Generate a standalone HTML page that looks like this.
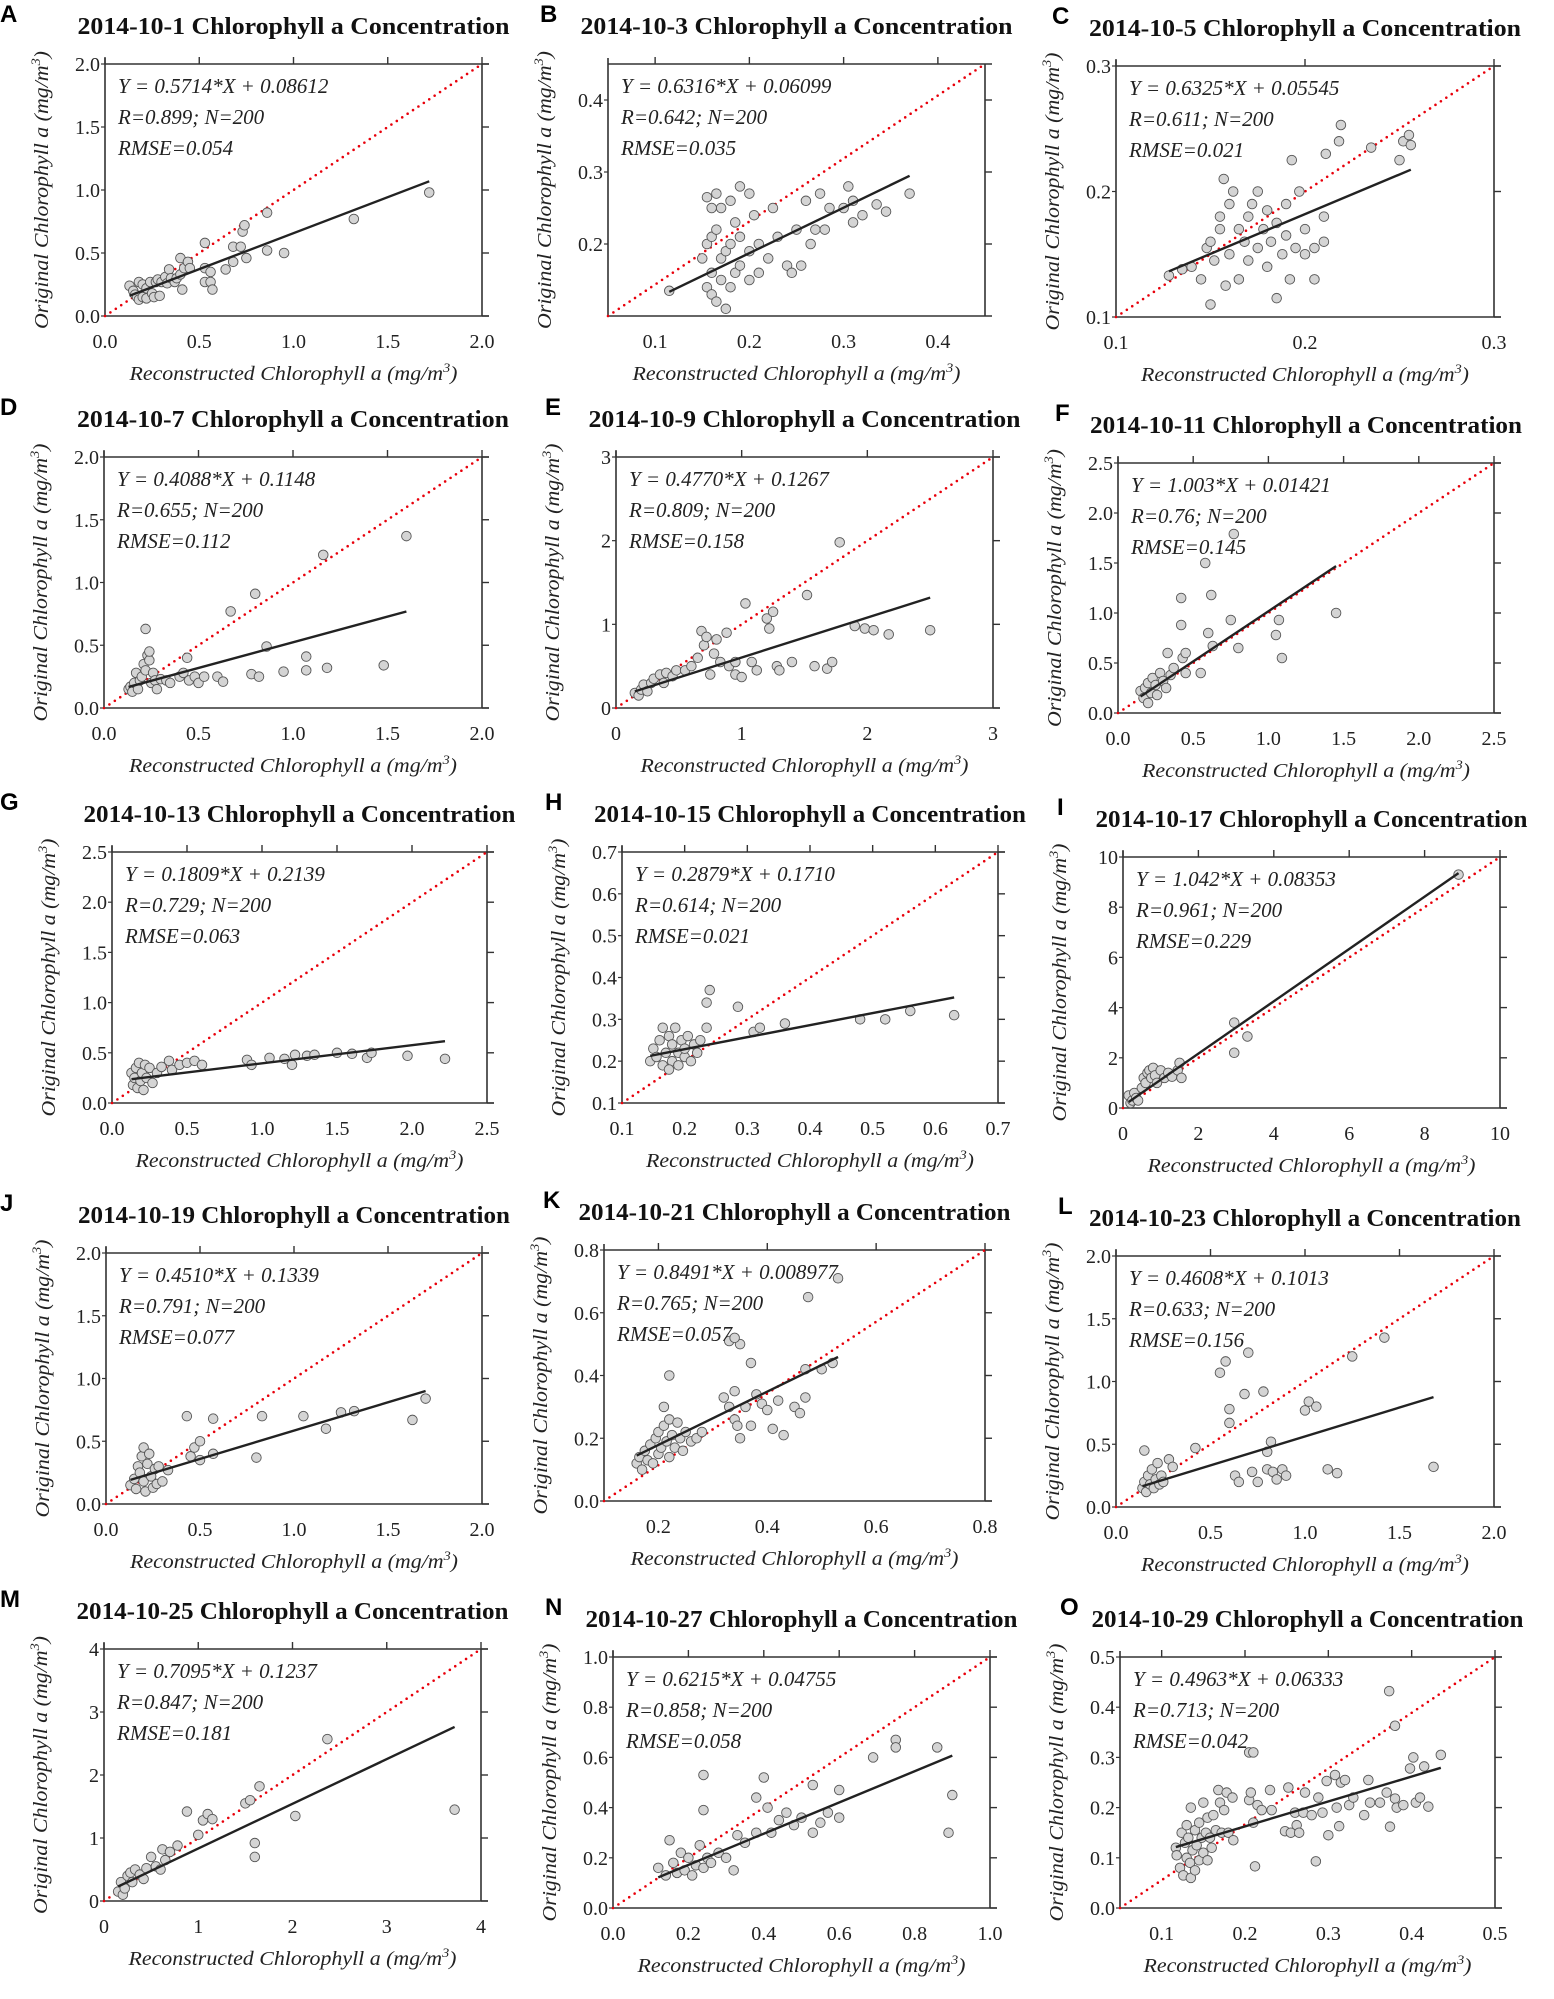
<!DOCTYPE html>
<html><head><meta charset="utf-8">
<style>
html,body{margin:0;padding:0;background:#fff;}
svg{display:block;}
.ttl{font-family:"Liberation Serif",serif;font-weight:bold;font-size:24px;fill:#111;}
.let{font-family:"Liberation Sans",sans-serif;font-weight:bold;font-size:24px;fill:#000;}
.tk{font-family:"Liberation Serif",serif;font-size:20px;fill:#222;}
.ann{font-family:"Liberation Serif",serif;font-style:italic;font-size:21px;fill:#222;}
.axl{font-family:"Liberation Serif",serif;font-style:italic;font-size:20px;fill:#222;}
</style></head>
<body>
<svg id="fig" width="1554" height="1999" viewBox="0 0 1554 1999" xmlns="http://www.w3.org/2000/svg"></svg>
<script>
const panelIds=['A','B','C','D','E','F','G','H','I','J','K','L','M','N','O'];
const dates=['2014-10-1','2014-10-3','2014-10-5','2014-10-7','2014-10-9','2014-10-11','2014-10-13','2014-10-15','2014-10-17','2014-10-19','2014-10-21','2014-10-23','2014-10-25','2014-10-27','2014-10-29'];
const slopeText=['0.5714','0.6316','0.6325','0.4088','0.4770','1.003','0.1809','0.2879','1.042','0.4510','0.8491','0.4608','0.7095','0.6215','0.4963'];
const interceptText=['0.08612','0.06099','0.05545','0.1148','0.1267','0.01421','0.2139','0.1710','0.08353','0.1339','0.008977','0.1013','0.1237','0.04755','0.06333'];
const rText=['0.899','0.642','0.611','0.655','0.809','0.76','0.729','0.614','0.961','0.791','0.765','0.633','0.847','0.858','0.713'];
const rmseText=['0.054','0.035','0.021','0.112','0.158','0.145','0.063','0.021','0.229','0.077','0.057','0.156','0.181','0.058','0.042'];
const xDomains=[[0,2],[0.05,0.45],[0.1,0.3],[0,2],[0,3],[0,2.5],[0,2.5],[0.1,0.7],[0,10],[0,2],[0.1,0.8],[0,2],[0,4],[0,1],[0.05,0.5]];
const yDomains=[[0,2],[0.1,0.45],[0.1,0.3],[0,2],[0,3],[0,2.5],[0,2.5],[0.1,0.7],[0,10],[0,2],[0,0.8],[0,2],[0,4],[0,1],[0,0.5]];
const t02=[0,0.5,1,1.5,2], t025=[0,0.5,1,1.5,2,2.5];
const xTicks=[t02,[0.1,0.2,0.3,0.4],[0.1,0.2,0.3],t02,[0,1,2,3],t025,t025,[0.1,0.2,0.3,0.4,0.5,0.6,0.7],[0,2,4,6,8,10],t02,[0.2,0.4,0.6,0.8],t02,[0,1,2,3,4],[0,0.2,0.4,0.6,0.8,1],[0.1,0.2,0.3,0.4,0.5]];
const yTicks=[t02,[0.2,0.3,0.4],[0.1,0.2,0.3],t02,[0,1,2,3],t025,t025,[0.1,0.2,0.3,0.4,0.5,0.6,0.7],[0,2,4,6,8,10],t02,[0,0.2,0.4,0.6,0.8],t02,[0,1,2,3,4],[0,0.2,0.4,0.6,0.8,1],[0,0.1,0.2,0.3,0.4,0.5]];
const tickDecimals=[1,1,1,1,0,1,1,1,0,1,1,1,0,1,1];

const ptsA=[[0.13,0.24],[0.15,0.2],[0.16,0.17],[0.17,0.15],[0.18,0.13],[0.18,0.27],[0.2,0.25],[0.2,0.15],[0.22,0.22],[0.22,0.14],[0.24,0.27],[0.25,0.18],[0.26,0.15],[0.27,0.27],[0.28,0.29],[0.29,0.16],[0.3,0.27],[0.32,0.31],[0.33,0.26],[0.34,0.37],[0.35,0.3],[0.37,0.27],[0.38,0.3],[0.4,0.33],[0.4,0.46],[0.41,0.21],[0.42,0.38],[0.44,0.43],[0.45,0.38],[0.53,0.58],[0.53,0.38],[0.53,0.27],[0.56,0.35],[0.56,0.27],[0.57,0.21],[0.64,0.37],[0.68,0.55],[0.68,0.43],[0.72,0.55],[0.73,0.67],[0.74,0.72],[0.75,0.46],[0.86,0.82],[0.86,0.52],[0.95,0.5],[1.32,0.77],[1.72,0.98]];
const ptsB=[[0.15,0.18],[0.155,0.2],[0.155,0.14],[0.16,0.13],[0.16,0.16],[0.16,0.21],[0.165,0.27],[0.165,0.22],[0.165,0.12],[0.17,0.25],[0.17,0.15],[0.17,0.18],[0.175,0.11],[0.175,0.19],[0.18,0.14],[0.18,0.2],[0.18,0.26],[0.185,0.16],[0.185,0.23],[0.19,0.17],[0.19,0.21],[0.19,0.28],[0.2,0.15],[0.2,0.19],[0.2,0.27],[0.205,0.24],[0.21,0.2],[0.21,0.16],[0.22,0.18],[0.225,0.25],[0.23,0.21],[0.24,0.17],[0.245,0.16],[0.25,0.22],[0.255,0.17],[0.26,0.26],[0.265,0.2],[0.27,0.22],[0.275,0.27],[0.28,0.22],[0.285,0.25],[0.3,0.25],[0.305,0.28],[0.31,0.26],[0.31,0.23],[0.32,0.24],[0.335,0.255],[0.345,0.245],[0.37,0.27],[0.155,0.265],[0.16,0.25],[0.115,0.135]];
const ptsC=[[0.128,0.133],[0.135,0.138],[0.14,0.14],[0.145,0.13],[0.148,0.155],[0.15,0.11],[0.15,0.16],[0.152,0.145],[0.155,0.17],[0.155,0.18],[0.158,0.125],[0.16,0.19],[0.16,0.15],[0.162,0.2],[0.165,0.17],[0.165,0.13],[0.168,0.16],[0.17,0.18],[0.17,0.145],[0.172,0.19],[0.175,0.2],[0.175,0.155],[0.178,0.17],[0.18,0.14],[0.18,0.185],[0.182,0.16],[0.185,0.115],[0.185,0.175],[0.188,0.15],[0.19,0.19],[0.19,0.165],[0.192,0.13],[0.195,0.155],[0.197,0.2],[0.2,0.17],[0.2,0.15],[0.205,0.155],[0.205,0.13],[0.21,0.16],[0.21,0.18],[0.157,0.21],[0.193,0.225],[0.211,0.23],[0.218,0.24],[0.219,0.253],[0.235,0.235],[0.25,0.225],[0.252,0.24],[0.256,0.237],[0.255,0.245]];
const ptsD=[[0.13,0.15],[0.14,0.17],[0.15,0.13],[0.16,0.2],[0.17,0.28],[0.18,0.15],[0.19,0.22],[0.2,0.25],[0.21,0.35],[0.22,0.3],[0.22,0.63],[0.23,0.42],[0.24,0.38],[0.25,0.2],[0.26,0.28],[0.27,0.22],[0.28,0.15],[0.3,0.23],[0.33,0.22],[0.35,0.2],[0.4,0.25],[0.42,0.28],[0.44,0.4],[0.45,0.22],[0.48,0.25],[0.5,0.2],[0.53,0.25],[0.6,0.25],[0.63,0.21],[0.67,0.77],[0.8,0.91],[0.78,0.27],[0.82,0.25],[0.86,0.49],[0.95,0.29],[1.07,0.3],[1.07,0.41],[1.18,0.32],[1.16,1.22],[1.48,0.34],[1.6,1.37],[0.24,0.45]];
const ptsE=[[0.15,0.18],[0.18,0.15],[0.2,0.22],[0.22,0.28],[0.25,0.2],[0.28,0.3],[0.3,0.35],[0.35,0.4],[0.38,0.3],[0.4,0.42],[0.45,0.38],[0.48,0.45],[0.55,0.45],[0.6,0.5],[0.65,0.6],[0.68,0.92],[0.7,0.75],[0.72,0.85],[0.75,0.4],[0.78,0.65],[0.8,0.82],[0.83,0.55],[0.88,0.9],[0.9,0.5],[0.95,0.55],[0.95,0.4],[1.0,0.37],[1.03,1.25],[1.08,0.55],[1.12,0.45],[1.2,1.07],[1.22,0.95],[1.25,1.15],[1.28,0.5],[1.3,0.45],[1.4,0.55],[1.52,1.35],[1.58,0.5],[1.68,0.47],[1.72,0.55],[1.78,1.98],[1.9,0.98],[1.98,0.95],[2.05,0.93],[2.17,0.88],[2.5,0.93]];
const ptsF=[[0.15,0.22],[0.17,0.15],[0.18,0.25],[0.2,0.1],[0.2,0.3],[0.22,0.2],[0.23,0.35],[0.25,0.28],[0.26,0.18],[0.28,0.4],[0.3,0.32],[0.32,0.25],[0.33,0.6],[0.35,0.38],[0.37,0.45],[0.42,0.88],[0.42,1.15],[0.43,0.55],[0.45,0.6],[0.45,0.4],[0.55,0.4],[0.58,1.5],[0.6,0.8],[0.62,1.18],[0.63,0.67],[0.75,0.93],[0.77,1.79],[0.8,0.65],[1.05,0.78],[1.07,0.93],[1.09,0.55],[1.45,1.0]];
const ptsG=[[0.13,0.3],[0.14,0.18],[0.15,0.25],[0.16,0.35],[0.17,0.15],[0.18,0.4],[0.19,0.22],[0.2,0.3],[0.21,0.13],[0.22,0.38],[0.23,0.25],[0.25,0.35],[0.27,0.2],[0.3,0.3],[0.33,0.36],[0.38,0.42],[0.4,0.33],[0.45,0.38],[0.5,0.4],[0.55,0.42],[0.6,0.38],[0.9,0.43],[0.93,0.38],[1.05,0.45],[1.15,0.44],[1.2,0.38],[1.22,0.48],[1.3,0.47],[1.35,0.48],[1.5,0.5],[1.6,0.49],[1.7,0.45],[1.73,0.5],[1.97,0.47],[2.22,0.44]];
const ptsH=[[0.145,0.2],[0.15,0.23],[0.155,0.21],[0.16,0.25],[0.165,0.19],[0.165,0.28],[0.17,0.22],[0.175,0.26],[0.18,0.2],[0.18,0.24],[0.185,0.28],[0.19,0.22],[0.19,0.19],[0.195,0.25],[0.2,0.21],[0.2,0.23],[0.205,0.26],[0.21,0.2],[0.215,0.24],[0.22,0.22],[0.225,0.25],[0.235,0.28],[0.235,0.34],[0.24,0.37],[0.285,0.33],[0.31,0.27],[0.32,0.28],[0.36,0.29],[0.48,0.3],[0.52,0.3],[0.56,0.32],[0.63,0.31],[0.175,0.18]];
const ptsI=[[0.15,0.5],[0.2,0.2],[0.25,0.3],[0.3,0.6],[0.35,0.4],[0.4,0.3],[0.5,0.8],[0.55,1.2],[0.6,1.0],[0.65,1.4],[0.7,1.5],[0.75,1.2],[0.8,1.6],[0.85,1.3],[0.9,1.0],[1.0,1.5],[1.1,1.2],[1.2,1.4],[1.3,1.25],[1.45,1.5],[1.5,1.8],[1.55,1.2],[2.95,2.2],[2.95,3.4],[3.3,2.85],[8.9,9.3]];
const ptsJ=[[0.13,0.15],[0.15,0.2],[0.16,0.12],[0.17,0.3],[0.18,0.25],[0.19,0.38],[0.2,0.18],[0.2,0.45],[0.21,0.1],[0.22,0.32],[0.23,0.4],[0.24,0.22],[0.25,0.13],[0.26,0.28],[0.27,0.16],[0.28,0.3],[0.3,0.18],[0.33,0.27],[0.43,0.7],[0.45,0.38],[0.47,0.45],[0.5,0.35],[0.5,0.5],[0.57,0.68],[0.57,0.4],[0.8,0.37],[0.83,0.7],[1.05,0.7],[1.17,0.6],[1.25,0.73],[1.32,0.74],[1.63,0.67],[1.7,0.84]];
const ptsK=[[0.16,0.12],[0.165,0.14],[0.17,0.1],[0.175,0.16],[0.18,0.13],[0.185,0.18],[0.19,0.12],[0.195,0.2],[0.2,0.15],[0.2,0.22],[0.205,0.17],[0.21,0.24],[0.215,0.19],[0.22,0.26],[0.22,0.14],[0.225,0.21],[0.23,0.17],[0.235,0.25],[0.24,0.2],[0.245,0.16],[0.25,0.22],[0.26,0.19],[0.27,0.2],[0.28,0.22],[0.22,0.4],[0.21,0.3],[0.32,0.33],[0.33,0.3],[0.34,0.35],[0.34,0.26],[0.345,0.24],[0.35,0.2],[0.35,0.5],[0.36,0.3],[0.37,0.44],[0.37,0.24],[0.38,0.34],[0.39,0.31],[0.4,0.29],[0.41,0.23],[0.42,0.32],[0.43,0.21],[0.45,0.3],[0.46,0.28],[0.47,0.33],[0.47,0.42],[0.475,0.65],[0.5,0.42],[0.52,0.44],[0.53,0.71],[0.33,0.51],[0.34,0.52]];
const ptsL=[[0.14,0.15],[0.15,0.2],[0.16,0.12],[0.17,0.25],[0.18,0.18],[0.19,0.3],[0.2,0.15],[0.21,0.22],[0.22,0.35],[0.23,0.18],[0.24,0.25],[0.25,0.2],[0.15,0.45],[0.28,0.38],[0.3,0.32],[0.42,0.47],[0.55,1.07],[0.58,1.16],[0.6,0.78],[0.6,0.67],[0.63,0.25],[0.65,0.2],[0.68,0.9],[0.7,1.23],[0.72,0.28],[0.75,0.2],[0.78,0.92],[0.8,0.3],[0.8,0.44],[0.82,0.52],[0.83,0.28],[0.85,0.22],[0.88,0.3],[0.9,0.25],[1.0,0.77],[1.02,0.84],[1.06,0.8],[1.12,0.3],[1.17,0.27],[1.25,1.2],[1.42,1.35],[1.68,0.32]];
const ptsM=[[0.15,0.15],[0.18,0.3],[0.2,0.1],[0.22,0.2],[0.25,0.4],[0.28,0.45],[0.3,0.3],[0.33,0.5],[0.38,0.42],[0.42,0.35],[0.45,0.52],[0.5,0.7],[0.55,0.55],[0.6,0.5],[0.62,0.82],[0.65,0.65],[0.7,0.78],[0.78,0.88],[0.88,1.42],[1.0,1.05],[1.05,1.28],[1.1,1.38],[1.15,1.3],[1.5,1.55],[1.55,1.6],[1.6,0.92],[1.6,0.7],[1.65,1.82],[2.03,1.35],[2.37,2.57],[3.72,1.45]];
const ptsN=[[0.12,0.16],[0.14,0.13],[0.15,0.27],[0.16,0.18],[0.17,0.14],[0.18,0.22],[0.19,0.15],[0.2,0.2],[0.21,0.13],[0.22,0.17],[0.23,0.25],[0.24,0.16],[0.25,0.2],[0.26,0.18],[0.28,0.22],[0.3,0.2],[0.32,0.15],[0.24,0.53],[0.24,0.39],[0.33,0.29],[0.35,0.26],[0.38,0.3],[0.38,0.44],[0.4,0.52],[0.41,0.4],[0.42,0.3],[0.44,0.35],[0.46,0.38],[0.48,0.33],[0.5,0.36],[0.53,0.49],[0.53,0.3],[0.55,0.34],[0.57,0.38],[0.6,0.47],[0.6,0.36],[0.69,0.6],[0.75,0.67],[0.75,0.64],[0.86,0.64],[0.89,0.3],[0.9,0.45]];
const ptsO=[[0.117,0.12],[0.118,0.105],[0.122,0.08],[0.124,0.15],[0.126,0.065],[0.128,0.13],[0.13,0.165],[0.13,0.1],[0.132,0.14],[0.134,0.09],[0.135,0.06],[0.135,0.2],[0.137,0.115],[0.14,0.155],[0.14,0.075],[0.142,0.125],[0.145,0.17],[0.145,0.095],[0.148,0.14],[0.15,0.11],[0.15,0.21],[0.153,0.15],[0.155,0.18],[0.155,0.095],[0.158,0.14],[0.16,0.12],[0.162,0.185],[0.165,0.155],[0.168,0.235],[0.17,0.21],[0.172,0.15],[0.175,0.195],[0.178,0.23],[0.18,0.15],[0.185,0.22],[0.186,0.135],[0.205,0.31],[0.205,0.215],[0.207,0.23],[0.21,0.31],[0.21,0.17],[0.212,0.083],[0.215,0.205],[0.22,0.195],[0.23,0.235],[0.232,0.195],[0.248,0.153],[0.252,0.24],[0.255,0.15],[0.26,0.19],[0.262,0.165],[0.265,0.15],[0.27,0.19],[0.272,0.23],[0.28,0.185],[0.285,0.093],[0.288,0.22],[0.293,0.19],[0.298,0.253],[0.3,0.145],[0.308,0.265],[0.31,0.2],[0.313,0.163],[0.315,0.25],[0.32,0.255],[0.325,0.205],[0.33,0.22],[0.343,0.185],[0.348,0.255],[0.35,0.21],[0.362,0.21],[0.373,0.432],[0.374,0.162],[0.38,0.363],[0.38,0.218],[0.382,0.2],[0.39,0.205],[0.398,0.278],[0.402,0.3],[0.405,0.21],[0.41,0.22],[0.415,0.282],[0.42,0.202],[0.435,0.305],[0.37,0.23]];
const allPts=[ptsA,ptsB,ptsC,ptsD,ptsE,ptsF,ptsG,ptsH,ptsI,ptsJ,ptsK,ptsL,ptsM,ptsN,ptsO];

// layout (pixel plot rectangles: left, top, right, bottom) and panel-letter x
const layout=[[105,64,482,316],[608,64,985,316],[1116,66,1494,317],[104,457,482,708],[616,457,993,708],[1118,463,1494,713],[112,852,487,1103],[622,852,998,1103],[1123,857,1500,1108],[106,1253,482,1504],[604,1250,985,1501],[1116,1256,1494,1507],[104,1649,481,1901],[613,1657,990,1908],[1120,1657,1495,1908]];
const letterX=[0,540,1052,0,545,1055,0,545,1057,0,543,1058,0,545,1060];

const NS='http://www.w3.org/2000/svg';
const svg=document.getElementById('fig');
function mk(tag,attrs,parent){const e=document.createElementNS(NS,tag);for(const k in attrs)e.setAttribute(k,attrs[k]);(parent||svg).appendChild(e);return e;}

panelIds.forEach((id,i)=>{
  const [L,T,R,B]=layout[i];
  const xd=xDomains[i], yd=yDomains[i];
  const sx=v=>L+(v-xd[0])/(xd[1]-xd[0])*(R-L);
  const sy=v=>B-(v-yd[0])/(yd[1]-yd[0])*(B-T);
  const g=mk('g',{});
  
  

  const lt=mk('text',{x:letterX[i],y:T-42,class:'let'},g);
  lt.textContent=id;
  
  

  const tt=mk('text',{x:(L+R)/2,y:T-30,class:'ttl','text-anchor':'middle',textLength:432,lengthAdjust:'spacingAndGlyphs'},g);
  tt.textContent=dates[i]+' Chlorophyll a Concentration';
  
  

  const fr=mk('path',{d:`M${L},${T-6}V${B}H${R+7}M${L},${T}H${R+7}M${R},${T}V${B}`,stroke:'#333','stroke-width':1.6,fill:'none'},g);
  
  

  const dec=tickDecimals[i];
  xTicks[i].forEach(v=>{
    const x=sx(v);
    const tl=mk('line',{x1:x,x2:x,y1:T,y2:T-7,stroke:'#333','stroke-width':1.4},g);
    
    
    const t=mk('text',{x:x,y:B+32,class:'tk','text-anchor':'middle'},g);
    t.textContent=v.toFixed(dec);
    
    
  });
  yTicks[i].forEach(v=>{
    const y=sy(v);
    const tl=mk('line',{x1:R,x2:R+7,y1:y,y2:y,stroke:'#333','stroke-width':1.4},g);
    
    
    const tl2=mk('line',{x1:L,x2:L-4,y1:y,y2:y,stroke:'#333','stroke-width':1.2},g);
    
    
    const t=mk('text',{x:L-5,y:y+7,class:'tk','text-anchor':'end'},g);
    t.textContent=v.toFixed(dec);
    
    
  });

  const dg=mk('line',{x1:sx(xd[0]),y1:sy(yd[0]),x2:sx(xd[1]),y2:sy(yd[1]),stroke:'#e8000b','stroke-width':2.6,'stroke-dasharray':'0 6.5','stroke-linecap':'round'},g);
  
  

  const pts=allPts[i];
  pts.forEach(p=>{
    const c=mk('circle',{cx:sx(p[0]),cy:sy(p[1]),r:4.8,fill:'#d4d4d4',stroke:'#555','stroke-width':0.9},g);
    
    
  });

  const m=parseFloat(slopeText[i]), b=parseFloat(interceptText[i]);
  const xs=pts.map(p=>p[0]);
  const x0=Math.min(...xs), x1=Math.max(...xs);
  const rl=mk('line',{x1:sx(x0),y1:sy(m*x0+b),x2:sx(x1),y2:sy(m*x1+b),stroke:'#222','stroke-width':2.4},g);
  
  

  const lines=['Y = '+slopeText[i]+'*X + '+interceptText[i],'R='+rText[i]+'; N=200','RMSE='+rmseText[i]];
  lines.forEach((s,k)=>{
    const a=mk('text',{x:L+13,y:T+29+k*31,class:'ann'},g);
    a.textContent=s;
    
    
  });

  const xt=mk('text',{x:(L+R)/2,y:B+64,class:'axl','text-anchor':'middle',textLength:328,lengthAdjust:'spacingAndGlyphs'},g);
  xt.innerHTML='Reconstructed Chlorophyll a (mg/m<tspan dy="-8" font-size="13">3</tspan><tspan dy="8">)</tspan>';
  
  

  const cy=(T+B)/2, cx=L-57;
  const yt=mk('text',{x:cx,y:cy,class:'axl','text-anchor':'middle',transform:`rotate(-90 ${cx} ${cy})`,textLength:278,lengthAdjust:'spacingAndGlyphs'},g);
  yt.innerHTML='Original Chlorophyll a (mg/m<tspan dy="-8" font-size="13">3</tspan><tspan dy="8">)</tspan>';
  
  
});
</script>
</body></html>
